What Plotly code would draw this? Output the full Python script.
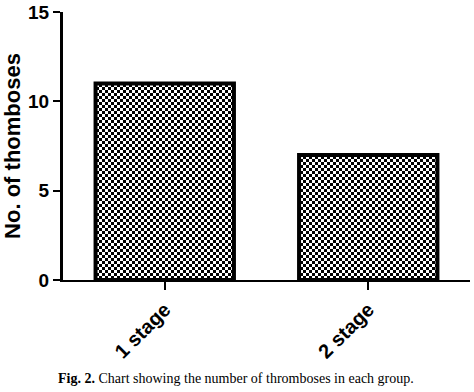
import plotly.graph_objects as go

categories = ["1 stage", "2 stage"]
thromboses = [11, 7]
y_ticks = [0, 5, 10, 15]

fig = go.Figure(
    go.Bar(
        x=categories,
        y=thromboses,
        width=0.68,
        marker=dict(
            color="white",
            line=dict(color="black", width=4),
            pattern=dict(shape=".", fgcolor="black", bgcolor="white", size=6, solidity=0.5),
        ),
    )
)

fig.update_layout(
    width=474,
    height=392,
    margin=dict(l=63, r=4, t=12, b=112, autoexpand=False),
    plot_bgcolor="white",
    paper_bgcolor="white",
    showlegend=False,
    font=dict(family="Liberation Sans", color="black"),
)

fig.update_xaxes(
    range=[-0.5, 1.5],
    showline=True,
    linecolor="black",
    linewidth=2,
    ticks="outside",
    ticklen=8,
    tickwidth=2,
    tickcolor="black",
    tickangle=-45,
    tickfont=dict(family="Liberation Sans", size=20, color="black", weight="bold"),
    showgrid=False,
    zeroline=False,
    automargin=False,
)

fig.update_yaxes(
    range=[0, 15],
    tickvals=y_ticks,
    showline=True,
    linecolor="black",
    linewidth=3,
    ticks="outside",
    ticklen=7,
    tickwidth=2,
    tickcolor="black",
    tickfont=dict(family="Liberation Sans", size=19, color="black", weight="bold"),
    title=dict(text="No. of thomboses", font=dict(family="Liberation Sans", size=22, color="black", weight="bold"), standoff=10),
    showgrid=False,
    zeroline=False,
    automargin=False,
)

fig.add_annotation(
    text="<b>Fig. 2.</b> Chart showing the number of thromboses in each group.",
    xref="paper", yref="paper", x=0.425, y=-0.366,
    xanchor="center", yanchor="middle", showarrow=False,
    font=dict(family="Liberation Serif", size=14, color="black"),
)

# remove the default page margin and turn the bar fill pattern into a checkerboard tile
post = """
document.body.style.margin = '0';
document.querySelectorAll('pattern').forEach(function (p) {
  var s = 6, h = 3;
  p.setAttribute('width', s);
  p.setAttribute('height', s);
  p.innerHTML = '<rect width="' + s + '" height="' + s + '" fill="white"/>' +
                '<rect width="' + h + '" height="' + h + '" fill="black"/>' +
                '<rect x="' + h + '" y="' + h + '" width="' + h + '" height="' + h + '" fill="black"/>';
});
"""

fig.write_html("out.html", post_script=post, config={"displayModeBar": False})
